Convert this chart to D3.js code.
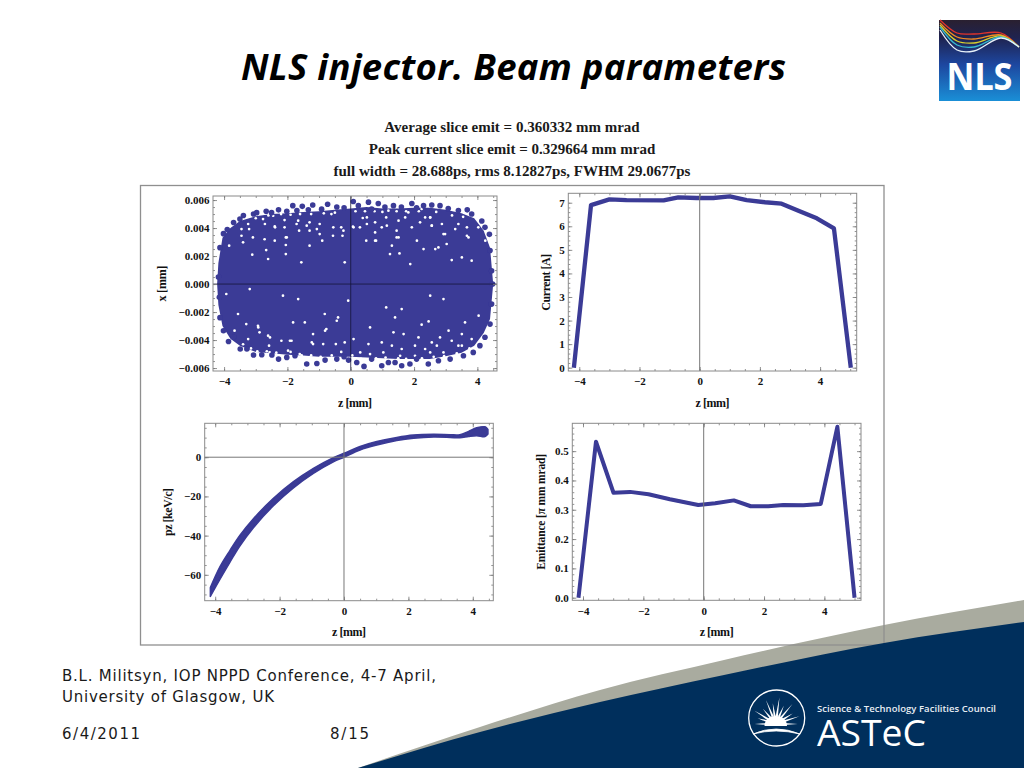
<!DOCTYPE html>
<html><head><meta charset="utf-8">
<script src="https://cdn.jsdelivr.net/npm/d3@7"></script>
<style>
html,body{margin:0;padding:0;background:#fff;overflow:hidden}
svg{display:block}
.ax text{font-family:"Liberation Serif",serif;font-weight:bold;font-size:11px;fill:#111}
.ax path{display:none}
.ax line{stroke:#777;stroke-width:.8}
.lab{font-family:"Liberation Serif",serif;font-weight:bold;font-size:12px;fill:#111;text-anchor:middle}
.hdr{font-family:"Liberation Serif",serif;font-weight:bold;font-size:15px;fill:#1a1a1a;text-anchor:middle}
.foot{font-family:"DejaVu Sans",sans-serif;font-size:15px;fill:#1a1a1a}
</style></head><body><div id="c"></div>
<script>
// ---- text ----
const slideTitle = "NLS injector. Beam parameters";
const headerLines = ["Average slice emit = 0.360332 mm mrad","Peak current slice emit = 0.329664 mm mrad","full width = 28.688ps, rms 8.12827ps, FWHM 29.0677ps"];
const footerLines = ["B.L. Militsyn, IOP NPPD Conference, 4-7 April,","University of Glasgow, UK"];
const footerDate = "6/4/2011", footerPage = "8/15";

// ---- panel 1: x (10^-3 mm) vs z: dense core outline ----
const coreZ   = [-4.22,-4.18,-4.05,-3.8,-3.5,-3.0,-2.5,-2,-1.5,-1,-0.5,0,0.5,1,1.5,2,2.5,3,3.5,3.9,4.2,4.4,4.5];
const coreTop = [0,1.5,3.3,4.0,4.5,4.85,5.0,5.05,5.15,5.2,5.3,5.4,5.5,5.4,5.4,5.45,5.45,5.3,5.05,4.7,3.8,2.6,0];
const coreBot = [0,-1.5,-3.0,-3.9,-4.4,-4.85,-4.95,-5.05,-5.1,-5.2,-5.2,-5.2,-5.25,-5.3,-5.35,-5.35,-5.35,-5.15,-4.9,-4.4,-3.5,-2.5,0];
// outermost individually visible particles
const edgeZ = [-4.13,-4.02,-3.9,-3.7,-3.5,-3.39,-3.07,-2.97,-2.67,-2.5,-2.28,-2.02,-1.83,-1.7,-1.53,-1.34,-1.2,-0.92,-0.73,-0.44,-0.21,0.08,0.24,0.56,0.66,0.87,1.08,1.35,1.6,1.93,2.08,2.3,2.56,2.82,3.08,3.4,3.68,3.82,4.14,4.24,4.38,4.4,4.45,4.48,-4.18,
 -4.15,-4.13,-4.02,-3.86,-3.7,-3.49,-3.28,-3.07,-2.81,-2.49,-2.28,-2.02,-1.76,-1.39,-1.07,-0.81,-0.44,-0.21,-0.07,0.19,0.42,0.66,0.98,1.19,1.4,1.61,1.87,2.08,2.45,2.77,3.14,3.56,3.87,4.08,4.24,4.4,4.45];
const edgeX = [2.6,3.6,3.9,4.4,4.65,4.9,5.0,5.1,5.2,5.1,5.3,5.2,5.6,5.25,5.55,5.3,5.65,5.35,5.7,5.5,5.45,5.9,5.6,5.85,5.35,5.75,5.5,5.6,5.5,5.75,5.45,5.6,5.65,5.6,5.4,5.25,5.3,5.0,4.5,4.05,3.55,2.4,0.95,0,0.5,
 -0.95,-2.4,-3.33,-4.1,-3.8,-4.64,-4.64,-5.07,-5.05,-5.07,-5.36,-5.24,-5.12,-5.71,-5.67,-5.43,-5.36,-5.19,-5.43,-5.6,-5.88,-5.36,-5.83,-5.6,-5.6,-5.83,-5.71,-5.36,-5.71,-5.48,-5.36,-5.12,-4.88,-4.4,-3.8,-2.86,-1.43];
// uncovered spots inside the cloud
const gapZ = [-3.45,-3.45,-3.40,-3.21,-3.84,-3.09,-3.11,-2.72,-2.67,-2.40,-2.40,-2.09,-2.05,-2.05,-2.05,-1.66,-1.63,-1.3,-1.3,-1.3,-0.98,-0.98,-0.9,-0.61,-0.56,-0.3,-0.26,0.07,-1.56,-2.61,-0.19,-2.77,-2.45,-2.09,-2.93,-3.24,
 0.09,0.38,0.51,0.77,1.12,1.14,1.51,1.45,1.51,0.77,0.8,0.49,1.24,1.54,1.30,2.09,2.30,2.67,2.77,1.88,2.24,2.51,2.56,2.19,2.88,2.98,3.03,3.30,3.67,3.67,3.19,3.82,3.51,4.25,1.82,1.19,
 -3.19,-3.67,-3.30,-3.24,-2.93,-2.88,-2.61,-2.58,-2.56,-2.19,-1.87,-1.82,-1.45,-1.19,-1.19,-0.82,-0.77,-0.4,-0.47,-0.19,-1.66,-2.14,-0.08,-1.98,-1.61,-0.87,-3.56,-3.93,
 1.12,1.61,2.51,2.93,1.4,0.61,4.04,3.61,2.24,2.46,3.09,3.51,2.82,2.14,1.67,1.35,2.56,2.72,3.19,3.82,0.56,0.98,1.30,1.61,2.03,2.35,3.51,0.09,0.30,0.61,1.03,1.56,2.03,2.51,2.93,3.40,
 -2.71,-2.39,-2.02,-1.71,-1.39,-1.07,-0.55,-0.23,0.29,0.51,0.77,0.98,1.45,1.72,1.93,2.35,2.51,2.56,2.93,3.4,3.72,4.03,
 -3.0,-2.6,-2.2,-1.9,-1.6,-1.25,-0.85,-0.5,0.15,0.45,0.75,1.0,1.45,1.75,2.15,2.7,3.2,3.55,
 -3.4,-3.15,-2.95,-2.65,-2.35,-1.9,-1.55,-1.25,-0.95,-0.6,-0.3,0.05,0.32,0.8,1.1,1.5,1.75,2.25,2.62,2.95,3.35,3.75,
 -2.92,-2.55,-1.92,-1.23,-0.81,-0.44];
const gapX = [3.93,3.45,2.98,3.93,2.74,3.33,2.1,3.2,2.43,4.12,3.1,4.05,3.33,2.79,2.14,4.53,3.81,4.41,3.81,2.74,4.29,3.57,3.1,5.0,3.45,4.05,3.45,4.1,1.55,1.79,1.55,4.64,4.88,4.57,5.0,4.29,
 4.05,4.72,4.76,4.41,4.76,4.17,4.53,3.81,3.33,3.69,3.1,3.1,2.14,2.19,2.74,3.1,2.5,2.5,2.62,1.43,5.36,4.76,4.17,4.41,4.29,3.57,2.86,3.93,4.05,3.45,1.71,1.67,1.9,3.1,5.12,5.24,
 -0.36,-3.33,-2.86,-3.93,-2.98,-3.45,-3.69,-4.4,-4.88,-4.05,-4.05,-2.74,-2.74,-3.57,-4.29,-2.14,-3.21,-2.38,-4.29,-4.17,-1.07,-0.83,-1.19,-4.76,-5.0,-4.29,-2.14,-0.71,
 -1.67,-1.79,-0.83,-1.07,-2.38,-3.1,-2.26,-2.74,-2.9,-2.67,-3.33,-3.57,-3.81,-3.81,-3.57,-3.45,-4.17,-4.4,-4.05,-3.93,-4.29,-4.17,-4.4,-4.64,-4.4,-4.64,-4.4,-3.93,-4.88,-5.0,-4.88,-5.12,-5.12,-4.88,-4.88,-4.4,
 4.29,4.05,3.33,4.29,4.17,3.93,4.05,3.81,4.05,4.29,3.1,4.05,3.33,4.76,4.05,4.76,4.76,4.17,3.57,4.29,3.33,4.05,
 4.7,4.9,5.0,4.95,5.0,5.0,5.05,5.1,5.2,5.2,5.2,5.15,5.2,5.2,5.2,5.15,4.9,4.8,
 -4.3,-4.6,-4.8,-4.8,-4.9,-4.85,-5.1,-5.1,-5.2,-5.1,-4.85,-5.1,-5.35,-5.3,-5.25,-5.3,-5.35,-5.3,-5.2,-5.15,-4.95,-4.6,
 -3.1,-3.81,-4.05,-4.17,-3.33,-2.62];

// ---- panel 2: current ----
const currentZ = [-4.18,-3.61,-3.0,-2.43,-1.2,-0.71,-0.1,0.45,1.0,1.56,2.17,2.72,3.28,3.89,4.46,5.02];
const currentA = [0,6.9,7.14,7.11,7.1,7.23,7.2,7.2,7.27,7.11,7.02,6.96,6.66,6.34,5.91,0];

// ---- panel 3: pz band ----
const pzZ   = [-4.15,-3.85,-3.54,-3.23,-2.82,-2.2,-1.58,-0.95,-0.33,0,0.5,1.02,1.64,2.16,2.78,3.3,3.6,3.87,4.12,4.38,4.47];
const pzTop = [-66.5,-55.8,-47.5,-39.8,-31.5,-21.1,-12.6,-5.7,-0.2,2,5.5,8,10.1,11.3,11.7,11.5,11.5,13.2,15,15.5,14.2];
const pzBot = [-71,-62.2,-53.5,-45.2,-36.1,-24.9,-15.8,-8.3,-2.4,0,3.7,6.2,8.5,9.7,10.3,10.1,9.9,10.6,11,10.5,11.8];

// ---- panel 4: emittance ----
const emitZ = [-4.15,-3.57,-2.99,-2.44,-1.83,-1.12,-0.18,0.38,1.0,1.56,2.14,2.64,3.3,3.88,4.43,5.0];
const emitE = [0,0.532,0.358,0.361,0.353,0.336,0.316,0.322,0.332,0.312,0.312,0.316,0.315,0.32,0.583,0];

// ---- axis ticks ----
const zMajor = [-4,-2,0,2,4];
const xMajor = [-0.006,-0.004,-0.002,0,0.002,0.004,0.006];
const currentMajor = [0,1,2,3,4,5,6,7];
const pzMajor = [-60,-40,-20,0];
const emitMajor = [0,0.1,0.2,0.3,0.4,0.5];

// ---- swoosh outlines ----
const greyEdgeX = [358,480,600,724,884,1024];
const greyEdgeY = [768,727,690,660,625,600];
const navyEdgeX = [358,480,600,724,884,1024];
const navyEdgeY = [768,732,702,675,643,622];

const markColor = "#3a3a96";
const svg = d3.select("#c").append("svg").attr("width",1024).attr("height",768).attr("viewBox","0 0 1024 768");
const defs = svg.append("defs");
defs.append("filter").attr("id","soft").append("feGaussianBlur").attr("stdDeviation",0.45);
const logoGrad = defs.append("linearGradient").attr("id","logo").attr("x1",0).attr("x2",0).attr("y1",0).attr("y2",1);
[[0,"#2a2030"],[.22,"#1f2350"],[.55,"#1d47a0"],[1,"#1a8fd6"]].forEach(s=>logoGrad.append("stop").attr("offset",s[0]).attr("stop-color",s[1]));

const edge = d3.line().curve(d3.curveMonotoneX);
const gp = edge(greyEdgeX.map((x,i)=>[x,greyEdgeY[i]]));
const np = edge(navyEdgeX.map((x,i)=>[x,navyEdgeY[i]]));
svg.append("path").attr("d",gp+"L1024,768L358,768Z").attr("fill","#a9ab9f");

svg.append("text").text(slideTitle).attr("x",241).attr("y",80)
  .attr("textLength",545).attr("lengthAdjust","spacing")
  .style("font-family","'Open Sans',sans-serif").style("font-weight","bold").style("font-style","italic").style("font-size","36.5px").attr("fill","#000");
[131.7,154,175.7].forEach((y,i)=>svg.append("text").attr("class","hdr").attr("x",512).attr("y",y).text(headerLines[i]));

svg.append("rect").attr("x",140.5).attr("y",185.5).attr("width",743.5).attr("height",459.5).attr("fill","none").attr("stroke","#8f8f8f").attr("stroke-width",1.3);
svg.append("path").attr("d",np+"L1024,768L358,768Z").attr("fill","#002f5c");

function minors(a,b,step){const o=[];const n=Math.round((b-a)/step);for(let i=0;i<=n;i++)o.push(a+i*step);return o;}
const minus = s => s.replace("-","\u2212");
function panel(p){
  const x = d3.scaleLinear().domain(p.xd).range([p.l,p.r]);
  const y = d3.scaleLinear().domain(p.yd).range([p.b,p.t]);
  const g = svg.append("g");
  g.append("rect").attr("x",p.l).attr("y",p.t).attr("width",p.r-p.l).attr("height",p.b-p.t).attr("fill","#fff");
  p.draw(g,x,y);
  g.append("line").attr("x1",x(0)).attr("x2",x(0)).attr("y1",p.t).attr("y2",p.b).attr("stroke",p.zero).attr("stroke-width",p.zw);
  if(p.yd[0]<0 && p.yline) g.append("line").attr("x1",p.l).attr("x2",p.r).attr("y1",y(0)).attr("y2",y(0)).attr("stroke",p.zero).attr("stroke-width",p.zw);
  const xMin = minors(-4,p.xd[1]>5?5:4.5,0.5).filter(v=>v>p.xd[0]&&v<p.xd[1]);
  const yMin = minors(p.ymin[0],p.ymin[1],p.ymin[2]);
  const ax = (fn,sc,vals,len,lab,tx,cls)=>{
    const a=fn(sc).tickValues(vals).tickSize(len).tickSizeOuter(0).tickPadding(cls==="b"?6.5:3.5);
    a.tickFormat(lab?lab:"");
    g.append("g").attr("class","ax").attr("transform",tx).call(a);
  };
  ax(d3.axisBottom,x,xMin,-2,null,`translate(0,${p.b})`,"b");
  ax(d3.axisTop,x,xMin,-2,null,`translate(0,${p.t})`,"b");
  ax(d3.axisLeft,y,yMin,-2,null,`translate(${p.l},0)`,"l");
  ax(d3.axisRight,y,yMin,-2,null,`translate(${p.r},0)`,"l");
  ax(d3.axisBottom,x,zMajor,-4,d=>minus(String(d)),`translate(0,${p.b})`,"b");
  ax(d3.axisTop,x,zMajor,-4,null,`translate(0,${p.t})`,"b");
  ax(d3.axisLeft,y,p.yt,-4,p.yf,`translate(${p.l},0)`,"l");
  ax(d3.axisRight,y,p.yt,-4,null,`translate(${p.r},0)`,"l");
  g.append("rect").attr("x",p.l).attr("y",p.t).attr("width",p.r-p.l).attr("height",p.b-p.t).attr("fill","none").attr("stroke","#8a8a8a").attr("stroke-width",1);
  g.append("text").attr("class","lab").attr("x",(p.l+p.r)/2).attr("y",p.xlabY).text("z [mm]").attr("textLength",34);
  const yl=g.append("text").attr("class","lab").attr("transform",`translate(${p.ylabX},${(p.b+p.t)/2+(p.ylabOff||0)}) rotate(-90)`).attr("textLength",p.ylen).style("font-size",p.ysize||null);
  p.ylab.forEach(s=>yl.append("tspan").text(s[0]).style("font-style",s[1]?"italic":null));
}
const lineMark=(g,d,width)=>g.append("path").attr("d",d).attr("fill","none").attr("stroke",markColor).attr("stroke-width",width).attr("stroke-linejoin","round").attr("filter","url(#soft)");

panel({l:213,r:497,t:196,b:371,xd:[-4.35,4.62],yd:[-0.00621,0.00629],ymin:[-0.006,0.006,0.0005],yt:xMajor,
  yf:d=>minus(d3.format(".3f")(d)),zero:"#15153a",zw:.8,yline:true,xlabY:406.5,ylabX:166,ylen:36,ylab:[["x [mm]",0]],
  draw(g,x,y){
    const inner=g.append("g").attr("filter","url(#soft)");
    const area=d3.area().x(d=>x(d.z)).y0(d=>y(d.b/1000)).y1(d=>y(d.t/1000));
    inner.append("path").datum(coreZ.map((z,i)=>({z,t:coreTop[i],b:coreBot[i]}))).attr("d",area).attr("fill",markColor);
    inner.selectAll(".gap").data(gapZ.map((z,i)=>({z,v:gapX[i]}))).join("circle").attr("cx",d=>x(d.z)).attr("cy",d=>y(d.v/1000)).attr("r",1.35).attr("fill","#fff");
    inner.selectAll(".edge").data(edgeZ.map((z,i)=>({z,v:edgeX[i]}))).join("circle").attr("cx",d=>x(d.z)).attr("cy",d=>y(d.v/1000)).attr("r",2.8).attr("fill",markColor);
  }});
panel({l:568.3,r:856.7,t:193.3,b:371,xd:[-4.365,5.216],yd:[-0.14,7.4],ymin:[0,7,0.2],yt:currentMajor,
  yf:d=>String(d),zero:"#777",zw:1,yline:false,xlabY:406.5,ylabX:549.5,ylen:57,ylab:[["Current [A]",0]],
  draw(g,x,y){lineMark(g,d3.line().x(d=>x(d[0])).y(d=>y(d[1]))(currentZ.map((z,i)=>[z,currentA[i]])),4.3);}});
panel({l:204.7,r:493.3,t:423.3,b:600.7,xd:[-4.326,4.637],yd:[-73.2,17.3],ymin:[-70,15,5],yt:pzMajor,
  yf:d=>minus(String(d)),zero:"#777",zw:1,yline:true,xlabY:636,ylabX:172,ylen:48,ylab:[["pz [keV/c]",0]],
  draw(g,x,y){
    g.append("path").attr("d",d3.area().x(d=>x(d[0])).y0(d=>y(d[2])).y1(d=>y(d[1])).curve(d3.curveCatmullRom)(pzZ.map((z,i)=>[z,pzTop[i],pzBot[i]])))
     .attr("fill",markColor).attr("stroke",markColor).attr("stroke-width",1.5).attr("stroke-linejoin","round").attr("filter","url(#soft)");
  }});
panel({l:572.3,r:861,t:423.3,b:600.3,xd:[-4.355,5.214],yd:[-0.0089,0.595],ymin:[0,0.58,0.02],yt:emitMajor,
  yf:d=>d3.format(".1f")(d),zero:"#777",zw:1,yline:false,xlabY:636,ylabX:545,ylen:116,ysize:"11.5px",ylab:[["Emittance [",0],["\u03c0",1],[" mm mrad]",0]],
  draw(g,x,y){lineMark(g,d3.line().x(d=>x(d[0])).y(d=>y(d[1]))(emitZ.map((z,i)=>[z,emitE[i]])),4);}});

footerLines.forEach((s,i)=>svg.append("text").attr("class","foot").attr("x",62).attr("y",[680.7,701.7][i]).text(s).attr("textLength",i?212:374));
svg.append("text").attr("class","foot").attr("x",62).attr("y",739.3).text(footerDate).attr("textLength",78);
svg.append("text").attr("class","foot").attr("x",330).attr("y",739.3).text(footerPage).attr("textLength",39);

// NLS logo
const logo=svg.append("g");
logo.append("rect").attr("x",939).attr("y",20).attr("width",81).attr("height",81).attr("fill","url(#logo)");
const waveColors=["#e0342c","#f08a24","#d9d02c","#35b9d0","#e8f2fa"];
const waveY=[[20,33,34,33,47],[23,37,39,35,47],[25,41,43,36,47],[27,45,47,37,47],[30,50,51,38,47]];
const waveX=[940,957,974,1001,1019];
waveColors.forEach((c,i)=>logo.append("path").attr("d",d3.line().curve(d3.curveCatmullRom)(waveX.map((x,j)=>[x,waveY[i][j]]))).attr("fill","none").attr("stroke",c).attr("stroke-width",1.3));
logo.append("text").text("NLS").attr("x",979.5).attr("y",90).attr("text-anchor","middle").attr("fill","#fff")
  .style("font-family","'Noto Sans',sans-serif").style("font-weight","bold").style("font-size","38px").attr("textLength",66).attr("lengthAdjust","spacingAndGlyphs");

// ASTeC logo
const b=svg.append("g");
b.append("circle").attr("cx",776.7).attr("cy",718).attr("r",28).attr("fill","none").attr("stroke","#fff").attr("stroke-width",1.3);
b.append("path").attr("d","M753,734Q776,724 800,734Q776,728 753,734Z").attr("fill","#fff").attr("stroke","#fff").attr("stroke-width",.8);
b.append("path").attr("d","M764.5,726A11,10 0 0 1 787,726Z").attr("fill","#fff");
const rayAng=[-180,-162,-148,-130,-112,-98,-82,-66,-50,-32,-18,0];
const rayLen=[21,19,25,20,26,21,27,20,26,20,25,22];
rayAng.forEach((a,i)=>{const t=a*Math.PI/180,n=t+Math.PI/2,cx=775.7,cy=724;
  const s=[cx+8*Math.cos(t),cy+8*Math.sin(t)],e=[cx+rayLen[i]*Math.cos(t),cy+rayLen[i]*Math.sin(t)];
  b.append("path").attr("d",`M${s[0]+1.1*Math.cos(n)},${s[1]+1.1*Math.sin(n)}L${e[0]},${e[1]}L${s[0]-1.1*Math.cos(n)},${s[1]-1.1*Math.sin(n)}Z`).attr("fill","#fff");});
b.append("text").text("Science & Technology Facilities Council").attr("x",817).attr("y",711.5).attr("fill","#e8eef4")
  .style("font-family","'Open Sans',sans-serif").style("font-weight","600").style("font-size","9.5px").attr("textLength",179);
b.append("text").text("ASTeC").attr("x",817).attr("y",745.5).attr("fill","#fff")
  .style("font-family","'Open Sans',sans-serif").style("font-size","36px").attr("textLength",109).attr("lengthAdjust","spacingAndGlyphs");
</script></body></html>
